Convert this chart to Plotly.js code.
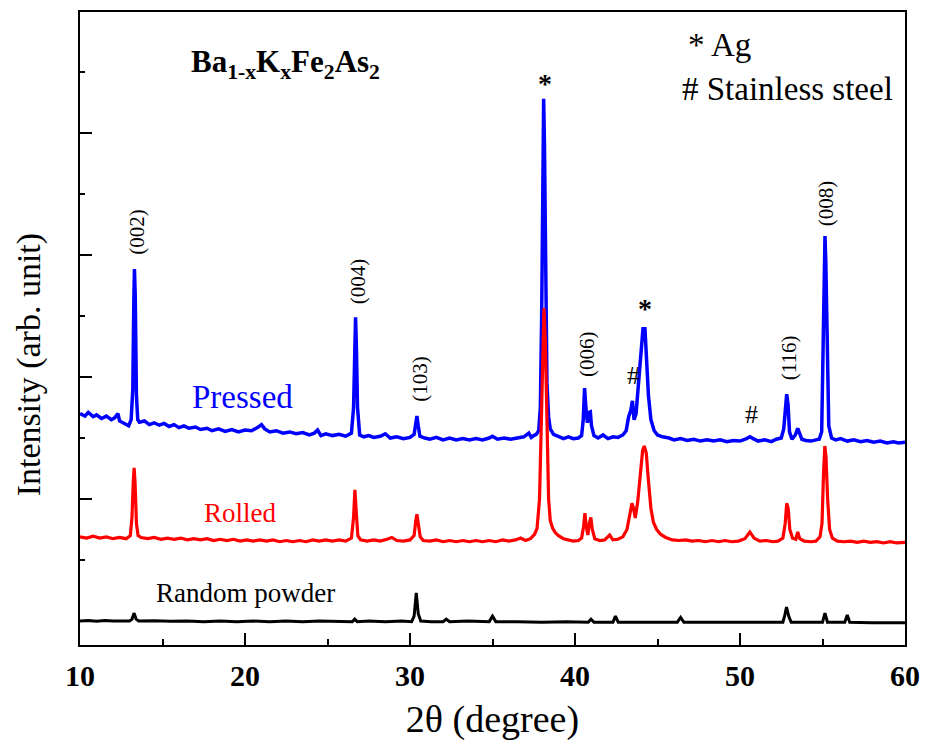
<!DOCTYPE html>
<html>
<head>
<meta charset="utf-8">
<script src="https://cdn.plot.ly/plotly-3.0.1.min.js"></script>
<style>html,body{margin:0;padding:0;background:#fff;}#chart{width:928px;height:753px;}</style>
</head>
<body>
<div id="chart"></div>
<script>
// 2θ (degree), intensity (arb. unit, offset curves)
const pressed = [
[10.0,3.40],[10.3,3.36],[10.5,3.42],[10.8,3.35],[11.0,3.38],[11.3,3.32],[11.6,3.36],[11.9,3.30],[12.1,3.33],[12.3,3.40],
[12.4,3.28],[12.7,3.24],[12.95,3.20],[13.1,3.30],[13.2,3.80],[13.26,5.20],[13.3,5.77],[13.35,5.30],[13.42,3.70],[13.5,3.30],
[13.6,3.26],[13.9,3.28],[14.2,3.22],[14.5,3.25],[14.8,3.21],[15.1,3.24],[15.4,3.19],[15.7,3.22],[16.0,3.17],[16.3,3.20],
[16.6,3.16],[17.0,3.18],[17.3,3.14],[17.7,3.16],[18.0,3.12],[18.4,3.15],[18.8,3.11],[19.2,3.14],[19.6,3.10],[20.0,3.13],
[20.4,3.12],[20.8,3.18],[21.0,3.22],[21.2,3.15],[21.5,3.10],[21.9,3.12],[22.3,3.08],[22.7,3.10],[23.1,3.07],[23.5,3.09],
[23.9,3.05],[24.2,3.08],[24.4,3.13],[24.6,3.04],[24.9,3.07],[25.3,3.04],[25.7,3.06],[26.1,3.03],[26.45,3.08],[26.58,3.50],
[26.65,4.60],[26.7,4.98],[26.75,4.50],[26.82,3.50],[26.95,3.05],[27.2,3.02],[27.5,3.04],[27.8,3.01],[28.2,3.03],[28.5,3.07],
[28.8,3.00],[29.2,3.02],[29.6,2.99],[30.0,3.01],[30.25,3.06],[30.35,3.30],[30.42,3.36],[30.5,3.20],[30.6,3.03],[30.9,3.00],
[31.2,2.98],[31.6,3.01],[32.0,2.97],[32.4,3.00],[32.8,2.97],[33.2,2.99],[33.6,2.97],[34.0,2.99],[34.4,2.97],[34.8,3.00],
[35.0,3.03],[35.3,2.98],[35.7,3.00],[36.1,2.98],[36.5,3.00],[36.9,3.02],[37.2,3.08],[37.35,3.01],[37.5,3.04],[37.65,3.06],
[37.8,3.12],[37.9,3.50],[37.98,5.00],[38.05,7.50],[38.1,8.56],[38.15,7.80],[38.22,5.50],[38.3,3.90],[38.4,3.35],[38.5,3.15],
[38.7,3.06],[39.0,3.03],[39.3,2.99],[39.6,3.02],[39.9,2.99],[40.2,3.00],[40.4,3.04],[40.5,3.30],[40.58,3.82],[40.66,3.50],
[40.75,3.25],[40.85,3.42],[40.93,3.43],[41.0,3.20],[41.15,3.04],[41.4,3.00],[41.7,3.05],[42.0,2.99],[42.3,3.02],[42.6,3.01],
[42.9,3.05],[43.1,3.12],[43.25,3.35],[43.38,3.45],[43.48,3.61],[43.58,3.30],[43.7,3.40],[43.85,3.90],[44.0,4.50],[44.12,4.79],
[44.24,4.79],[44.34,4.30],[44.45,3.70],[44.6,3.30],[44.8,3.12],[45.0,3.05],[45.3,3.02],[45.7,3.00],[46.0,2.97],[46.4,2.99],
[46.8,2.96],[47.2,2.98],[47.6,2.95],[48.0,2.97],[48.4,2.95],[48.8,2.97],[49.2,2.94],[49.6,2.96],[50.0,2.95],[50.4,2.99],
[50.6,3.02],[50.8,2.99],[51.1,2.95],[51.5,2.97],[51.9,2.94],[52.2,2.98],[52.5,3.00],[52.65,3.15],[52.75,3.55],[52.83,3.72],
[52.91,3.55],[53.0,3.10],[53.15,2.98],[53.35,3.05],[53.5,3.16],[53.6,3.08],[53.75,2.98],[54.0,2.96],[54.3,2.95],[54.6,2.97],
[54.8,2.98],[54.95,3.10],[55.03,4.30],[55.1,5.80],[55.15,6.31],[55.2,5.90],[55.28,4.20],[55.38,3.20],[55.55,3.00],[55.8,2.97],
[56.1,2.99],[56.5,2.95],[56.9,2.97],[57.3,2.94],[57.7,2.96],[58.1,2.93],[58.5,2.95],[58.9,2.92],[59.3,2.94],[59.6,2.92],[60.0,2.93]
];
const rolled = [
[10.0,1.38],[10.4,1.36],[10.8,1.39],[11.2,1.36],[11.6,1.38],[12.0,1.35],[12.4,1.37],[12.8,1.35],[13.05,1.40],[13.15,1.70],
[13.23,2.30],[13.28,2.51],[13.34,2.25],[13.42,1.60],[13.52,1.40],[13.7,1.37],[14.1,1.35],[14.5,1.37],[14.9,1.34],[15.3,1.36],
[15.7,1.34],[16.1,1.36],[16.5,1.33],[16.9,1.35],[17.3,1.33],[17.7,1.35],[18.1,1.32],[18.5,1.34],[18.9,1.32],[19.3,1.34],
[19.7,1.31],[20.1,1.33],[20.5,1.31],[20.9,1.33],[21.3,1.31],[21.7,1.33],[22.1,1.30],[22.5,1.32],[22.9,1.30],[23.3,1.32],
[23.7,1.30],[24.1,1.33],[24.5,1.31],[24.9,1.33],[25.3,1.31],[25.7,1.33],[26.1,1.31],[26.45,1.36],[26.58,1.70],[26.66,2.15],
[26.74,1.80],[26.84,1.40],[27.0,1.33],[27.4,1.31],[27.8,1.33],[28.2,1.31],[28.6,1.34],[28.9,1.37],[29.2,1.32],[29.6,1.31],
[30.0,1.33],[30.25,1.40],[30.35,1.65],[30.42,1.75],[30.5,1.60],[30.62,1.38],[30.8,1.32],[31.2,1.31],[31.6,1.33],[32.0,1.30],
[32.4,1.32],[32.8,1.30],[33.2,1.32],[33.6,1.30],[34.0,1.32],[34.4,1.30],[34.8,1.32],[35.2,1.30],[35.6,1.33],[36.0,1.31],
[36.4,1.33],[36.7,1.36],[37.0,1.32],[37.3,1.35],[37.55,1.42],[37.7,1.52],[37.85,2.00],[37.95,3.20],[38.05,4.80],[38.12,5.13],
[38.2,4.60],[38.3,3.00],[38.4,2.00],[38.5,1.65],[38.65,1.52],[38.8,1.45],[39.0,1.40],[39.3,1.35],[39.6,1.33],[39.9,1.31],
[40.2,1.32],[40.4,1.36],[40.52,1.55],[40.6,1.77],[40.68,1.55],[40.78,1.41],[40.88,1.62],[40.96,1.70],[41.05,1.50],[41.2,1.35],
[41.5,1.32],[41.8,1.33],[42.1,1.41],[42.3,1.33],[42.6,1.34],[42.9,1.38],[43.15,1.50],[43.3,1.70],[43.45,1.93],[43.55,1.85],
[43.65,1.69],[43.8,1.95],[43.95,2.45],[44.1,2.80],[44.2,2.87],[44.32,2.75],[44.45,2.30],[44.6,1.85],[44.75,1.62],[44.95,1.50],
[45.2,1.42],[45.5,1.37],[45.9,1.33],[46.3,1.32],[46.7,1.33],[47.1,1.31],[47.5,1.32],[47.9,1.30],[48.3,1.32],[48.7,1.30],
[49.1,1.32],[49.5,1.30],[49.9,1.31],[50.3,1.35],[50.6,1.46],[50.85,1.36],[51.2,1.31],[51.6,1.32],[52.0,1.30],[52.3,1.31],
[52.6,1.36],[52.74,1.60],[52.83,1.93],[52.92,1.85],[53.02,1.50],[53.18,1.36],[53.38,1.34],[53.5,1.46],[53.62,1.35],[53.9,1.31],
[54.3,1.30],[54.6,1.31],[54.85,1.38],[54.97,1.60],[55.06,2.40],[55.14,2.87],[55.21,2.70],[55.31,2.00],[55.43,1.50],[55.6,1.36],
[55.9,1.31],[56.3,1.30],[56.7,1.31],[57.1,1.29],[57.5,1.31],[57.9,1.29],[58.3,1.30],[58.7,1.28],[59.1,1.30],[59.5,1.28],[60.0,1.29]
];
const randomPowder = [
[10.0,0.00],[10.5,0.01],[11.0,-0.005],[11.5,0.01],[12.0,0.00],[12.5,0.005],[13.0,0.00],[13.15,0.03],[13.28,0.13],[13.4,0.03],
[13.55,0.00],[14.5,0.005],[15.5,-0.005],[16.5,0.00],[17.5,-0.01],[18.5,0.00],[19.5,-0.01],[20.5,0.00],[21.5,-0.01],[22.5,0.00],
[23.5,-0.01],[24.5,0.00],[25.5,-0.01],[26.5,-0.01],[26.65,0.03],[26.8,-0.01],[27.5,0.00],[28.5,-0.01],[29.5,0.00],[30.1,-0.01],
[30.25,0.08],[30.38,0.46],[30.5,0.12],[30.65,0.00],[31.3,-0.01],[32.0,-0.01],[32.2,0.03],[32.4,-0.01],[33.5,0.00],[34.8,-0.01],
[35.0,0.08],[35.2,-0.01],[36.5,-0.01],[38.0,-0.02],[39.5,-0.01],[40.8,-0.02],[40.97,0.03],[41.15,-0.02],[42.3,-0.02],[42.45,0.08],
[42.62,-0.02],[44.0,-0.02],[46.2,-0.02],[46.4,0.06],[46.6,-0.02],[48.0,-0.02],[50.0,-0.02],[52.6,-0.02],[52.72,0.10],[52.82,0.23],
[52.95,0.08],[53.1,-0.02],[54.0,-0.02],[55.0,-0.02],[55.15,0.13],[55.3,-0.02],[56.35,-0.02],[56.5,0.10],[56.65,-0.02],[58.0,-0.03],[60.0,-0.03]
];
const seriesNames = ['Pressed','Rolled','Random powder'];
const xTickLabels = ['10','20','30','40','50','60'];
const peakLabels = [
  {t:'(002)', x:13.45, y:6.38},
  {t:'(004)', x:26.85, y:5.57},
  {t:'(103)', x:30.6, y:3.97},
  {t:'(006)', x:40.73, y:4.38},
  {t:'(116)', x:52.97, y:4.31},
  {t:'(008)', x:55.21, y:6.85}
];

const serif = 'Liberation Serif, Times New Roman, serif';
function tr(d, color, w){
  return {x:d.map(p=>p[0]), y:d.map(p=>p[1]), type:'scatter', mode:'lines',
    line:{color:color, width:w}, hoverinfo:'skip', showlegend:false};
}
const data = [tr(pressed,'#0000ff',3.5), tr(rolled,'#ff0000',3.2), tr(randomPowder,'#000000',3)];
data[0].name=seriesNames[0]; data[1].name=seriesNames[1]; data[2].name=seriesNames[2];

const ann = [];
function A(text,x,y,size,color,opt){ ann.push(Object.assign({text:text,x:x,y:y,xref:'x',yref:'y',showarrow:false,
  font:{family:serif,size:size,color:color}},opt||{})); }
A('Ba<sub>1-x</sub>K<sub>x</sub>Fe<sub>2</sub>As<sub>2</sub>',16.6,9.13,31,'#000',{xanchor:'left',font:{family:serif,size:31,color:'#000',weight:'bold'}});
A('* Ag',46.72,9.44,33,'#000',{xanchor:'left'});
A('# Stainless steel',46.38,8.72,33,'#000',{xanchor:'left'});
A(seriesNames[0],19.82,3.67,33,'#0000ff');
A(seriesNames[1],19.7,1.77,27,'#ff0000');
A(seriesNames[2],20.06,0.46,27,'#000');
peakLabels.forEach(p=>A(p.t,p.x,p.y,21,'#000',{textangle:-90}));
A('*',38.18,8.82,28,'#000',{font:{family:serif,size:28,color:'#000',weight:'bold'}});
A('*',44.24,5.12,28,'#000',{font:{family:serif,size:28,color:'#000',weight:'bold'}});
A('#',43.52,4.02,26,'#000');
A('#',50.67,3.39,26,'#000');
ann.push({text:'Intensity (arb. unit)', xref:'paper', yref:'paper', x:-0.0617, y:0.442, xanchor:'center', yanchor:'middle',
  textangle:-90, showarrow:false, font:{family:serif, size:34, color:'#000'}});

const layout = {
  width:928, height:753,
  margin:{l:80, r:23, t:12, b:108},
  paper_bgcolor:'#fff', plot_bgcolor:'#fff',
  showlegend:false,
  xaxis:{range:[10,60], tickvals:[10,20,30,40,50,60], ticktext:xTickLabels,
    ticks:'inside', ticklen:12, tickwidth:2, tickcolor:'#000',
    minor:{tickvals:[15,25,35,45,55], ticks:'inside', ticklen:6, tickwidth:2, tickcolor:'#000'},
    showline:true, linewidth:2, linecolor:'#000', mirror:true, showgrid:false, zeroline:false,
    tickfont:{family:serif, size:30, color:'#000', weight:'bold'}, ticklabelstandoff:3,
    title:{text:'2θ (degree)', font:{family:serif, size:38, color:'#000'}, standoff:14}},
  yaxis:{range:[-0.393,9.984], tickvals:[0,2,4,6,8,10], showticklabels:false,
    ticks:'inside', ticklen:12, tickwidth:2, tickcolor:'#000',
    minor:{tickvals:[1,3,5,7,9], ticks:'inside', ticklen:5, tickwidth:2, tickcolor:'#000'},
    showline:true, linewidth:2, linecolor:'#000', mirror:true, showgrid:false, zeroline:false},
  annotations:ann
};
Plotly.newPlot('chart', data, layout, {displayModeBar:false, staticPlot:true});
</script>
</body>
</html>
